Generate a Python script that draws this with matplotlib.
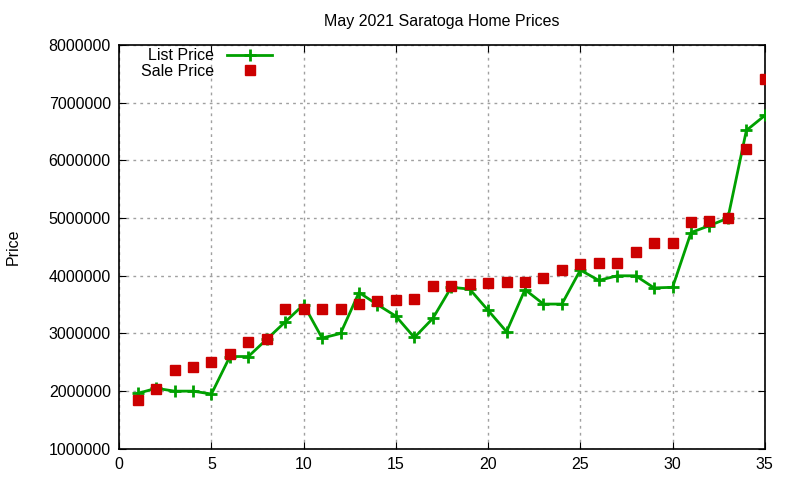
import matplotlib
matplotlib.use("Agg")
import matplotlib.pyplot as plt
from matplotlib.ticker import FuncFormatter

# house number (order) vs price
house = list(range(1, 36))
list_price = [1960000, 2050000, 2000000, 2000000, 1950000, 2600000, 2600000, 2900000,
              3200000, 3500000, 2920000, 3000000, 3710000, 3500000, 3300000, 2930000,
              3260000, 3800000, 3770000, 3400000, 3030000, 3760000, 3510000, 3510000,
              4100000, 3920000, 4000000, 4000000, 3790000, 3800000, 4750000, 4870000,
              5000000, 6520000, 6780000]
sale_price = [1850000, 2040000, 2360000, 2410000, 2510000, 2650000, 2860000, 2900000,
              3420000, 3420000, 3420000, 3420000, 3510000, 3560000, 3580000, 3590000,
              3820000, 3820000, 3850000, 3870000, 3900000, 3900000, 3970000, 4100000,
              4200000, 4230000, 4230000, 4420000, 4560000, 4560000, 4940000, 4950000,
              5010000, 6200000, 7410000]

plt.rcParams['font.family'] = ['Liberation Sans', 'DejaVu Sans']

fig = plt.figure(figsize=(8, 4.8), dpi=100)
ax = fig.add_axes([0.149, 0.065, 0.807, 0.841])

ax.plot(house, list_price, color='#00a000', linewidth=2, marker='+',
        markersize=9, markeredgewidth=2, label='List Price', zorder=3)
ax.plot(house, sale_price, color='#cc0000', linestyle='none', marker='s',
        markersize=6.5, label='Sale Price', zorder=4)

ax.set_xlim(0, 35)
ax.set_ylim(1000000, 8000000)
ax.set_xticks(range(0, 36, 5))
ax.set_yticks(range(1000000, 8000001, 1000000))
ax.yaxis.set_major_formatter(FuncFormatter(lambda v, p: '%d' % v))
ax.tick_params(direction='in', top=True, right=True, labelsize=11.5, length=5, pad=6)
ax.grid(True, linestyle=(0, (2, 3)), color='#a0a0a0', linewidth=1)
for s in ax.spines.values():
    s.set_linewidth(1.2)

ax.set_title('May 2021 Saratoga Home Prices', fontsize=11.5, pad=14)
fig.text(0.016, 0.485, 'Price', rotation=90, fontsize=11.5, va='center', ha='center')

ax.legend(loc='upper left', bbox_to_anchor=(0.017, 1.02), frameon=False,
          markerfirst=False, fontsize=11.5, handlelength=2.8,
          labelspacing=0.05, borderaxespad=0.3)

fig.savefig('out.png', dpi=100)
